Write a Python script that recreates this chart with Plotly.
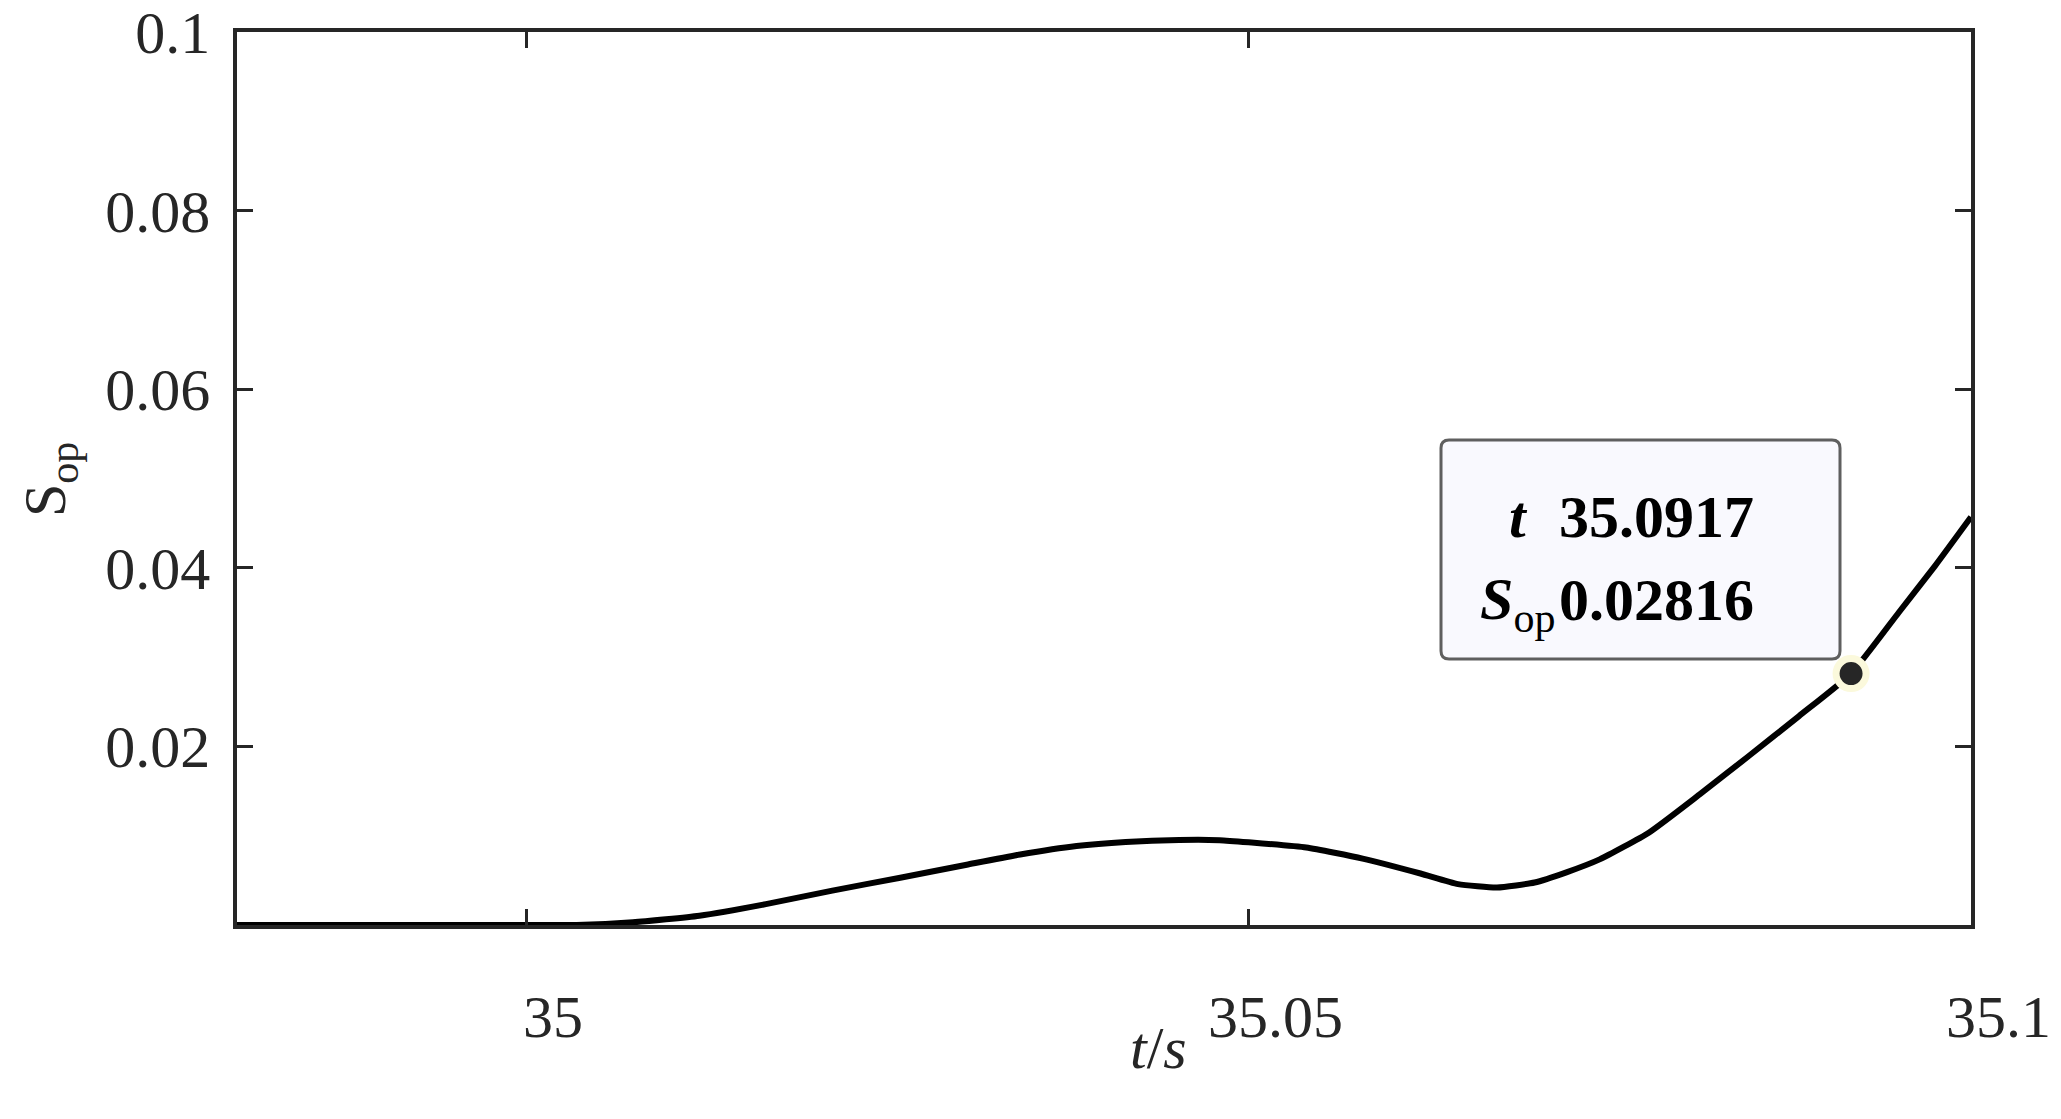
import plotly.graph_objects as go

# ---- data ----
t_vals = [34.98, 35.0, 35.0035, 35.0074, 35.012, 35.0166, 35.0212, 35.0259, 35.0305,
          35.0342, 35.0381, 35.0415, 35.0452, 35.0480, 35.0500, 35.0540, 35.0579,
          35.0619, 35.0645, 35.0672, 35.0698, 35.0720, 35.0743, 35.0777, 35.0812,
          35.0846, 35.0881, 35.0917, 35.0950, 35.0975, 35.1]
s_vals = [0.0, 0.0, 0.0, 0.0003, 0.00104, 0.00234, 0.00385, 0.0053, 0.00675,
          0.0079, 0.00885, 0.0093, 0.00952, 0.0095, 0.00926, 0.00867, 0.00744,
          0.00577, 0.00458, 0.0042, 0.00476, 0.0059, 0.00735, 0.01034, 0.0146,
          0.0189, 0.0234, 0.02816, 0.0350, 0.0402, 0.0457]

tip_t = [35.0917]
tip_s = [0.02816]
tip_t_label = "35.0917"
tip_s_label = "0.02816"

x_ticks = [35, 35.05, 35.1]
x_tick_text = ["35", "35.05", "35.1"]
y_ticks = [0.02, 0.04, 0.06, 0.08, 0.1]
y_tick_text = ["0.02", "0.04", "0.06", "0.08", "0.1"]

# ---- layout geometry ----
W, H = 2061, 1119
L, R, T, B = 237, 1971, 32, 925
FONT = "Liberation Serif"
AX = "#262626"


def px(xp):
    return (xp - L) / (R - L)


def py(yp):
    return (B - yp) / (B - T)


fig = go.Figure()
fig.add_trace(go.Scatter(x=t_vals, y=s_vals, mode="lines",
                         line=dict(color="black", width=6, shape="spline", smoothing=0.5),
                         showlegend=False, hoverinfo="skip"))
fig.add_trace(go.Scatter(x=tip_t, y=tip_s, mode="markers",
                         marker=dict(size=30, color="#262626",
                                     line=dict(color="#fbf9dc", width=7)),
                         showlegend=False, cliponaxis=False))

axis_common = dict(showline=True, linecolor=AX, linewidth=3.5, mirror="ticks",
                   ticks="inside", ticklen=16, tickwidth=3, tickcolor=AX,
                   showgrid=False, zeroline=False, automargin=False,
                   tickfont=dict(family=FONT, size=60, color=AX))

fig.update_layout(
    width=W, height=H,
    margin=dict(l=L, r=W - R, t=T, b=H - B, autoexpand=False),
    paper_bgcolor="white", plot_bgcolor="white",
    xaxis=dict(range=[34.98, 35.1], tickvals=x_ticks, ticktext=x_tick_text,
               showticklabels=False, **axis_common),
    yaxis=dict(range=[0, 0.10001], tickvals=y_ticks, ticktext=y_tick_text,
               ticklabelstandoff=11, ticklabeloverflow="allow", **axis_common),
)

# x tick labels (MATLAB export places them slightly right of the ticks)
for xv, xt in zip(x_ticks, x_tick_text):
    fig.add_annotation(xref="x", yref="paper", x=xv, y=py(1017), text=xt,
                       xshift=27, showarrow=False, xanchor="center", yanchor="middle",
                       font=dict(family=FONT, size=60, color=AX))

# data tip box (rounded rectangle)
bx0, bx1, by0, by1 = px(1441), px(1840), py(659), py(440)
rx, ry = 8 / (R - L), 8 / (B - T)
path = (f"M {bx0+rx},{by1} L {bx1-rx},{by1} Q {bx1},{by1} {bx1},{by1-ry} "
        f"L {bx1},{by0+ry} Q {bx1},{by0} {bx1-rx},{by0} L {bx0+rx},{by0} "
        f"Q {bx0},{by0} {bx0},{by0+ry} L {bx0},{by1-ry} Q {bx0},{by1} {bx0+rx},{by1} Z")
fig.add_shape(type="path", path=path, xref="paper", yref="paper",
              fillcolor="#f9f9fe", line=dict(color="#5f5f5f", width=3), layer="above")

tip_font = dict(family=FONT, size=60, color="black")
ann = [
    dict(x=px(1530), y=py(517), text="<b><i>t</i></b>", xanchor="right"),
    dict(x=px(1557), y=py(517), text=f"<b>{tip_t_label}</b>", xanchor="left"),
    dict(x=px(1557), y=py(603), text="<b><i>S</i></b><sub>op</sub>", xanchor="right"),
    dict(x=px(1557), y=py(600), text=f"<b>{tip_s_label}</b>", xanchor="left"),
]
for a in ann:
    fig.add_annotation(xref="paper", yref="paper", yanchor="middle", showarrow=False,
                       font=tip_font, **a)

# axis titles
fig.add_annotation(xref="paper", yref="paper", x=px(1158), y=py(1048),
                   text="<i>t</i>/<i>s</i>", showarrow=False, xanchor="center",
                   yanchor="middle", font=dict(family=FONT, size=60, color=AX))
fig.add_annotation(xref="paper", yref="paper", x=px(49), y=py(480),
                   text="S<sub>op</sub>", showarrow=False, textangle=-90,
                   xanchor="center", yanchor="middle",
                   font=dict(family=FONT, size=60, color=AX))

fig.write_html("out.html", config={"displayModeBar": False},
               post_script="document.body.style.margin='0';")
